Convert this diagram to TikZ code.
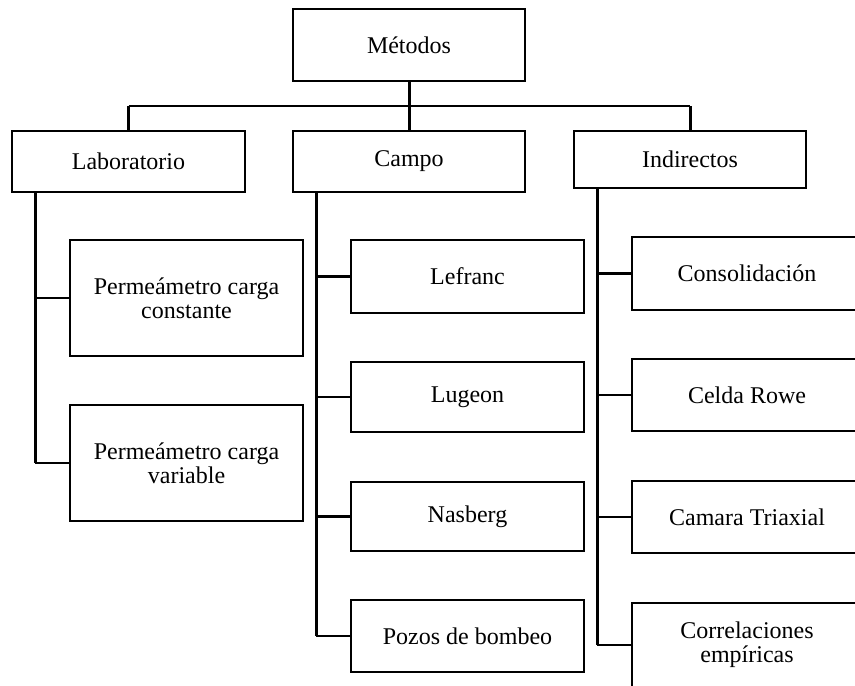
\documentclass[tikz,border=0pt]{standalone}
\usepackage{fontspec}
\setmainfont{Liberation Serif}
\begin{document}
\begin{tikzpicture}[x=0.5pt,y=-0.5pt,
  box/.style={draw, line width=1.3pt, inner sep=0pt, outer sep=0pt,
    minimum width=#1, align=center,
    font=\fontsize{12pt}{12pt}\selectfont},
  box/.default=116.5pt,
  vlink/.style={draw, line width=1.5pt},
  hlink/.style={draw, line width=1.1pt}]
\path[use as bounding box, clip] (0,0) rectangle (855,685);

% top level
\node[box=116pt, minimum height=36pt] (metodos) at (409,45) {Métodos};
\node[box, minimum height=30.5pt] (lab) at (128.5,161.5) {Laboratorio};
\node[box=116pt, minimum height=30.5pt] (campo) at (409,161.5) {Campo};
\node[box=116pt, minimum height=28.5pt] (ind) at (690,159.5) {Indirectos};

% laboratorio
\node[box, minimum height=58pt] (pc) at (186.5,298) {Permeámetro carga\\constante};
\node[box, minimum height=58pt] (pv) at (186.5,463) {Permeámetro carga\\variable};

% campo
\node[box, minimum height=36.5pt] (lefranc) at (467.5,276.5) {Lefranc};
\node[box, minimum height=35pt] (lugeon) at (467.5,397) {Lugeon};
\node[box, minimum height=34.5pt] (nasberg) at (467.5,516.5) {Nasberg};
\node[box, minimum height=36pt] (pozos) at (467.5,636) {Pozos de bombeo};

% indirectos
\node[box=115pt, minimum height=36.5pt] (consol) at (747,273.5) {Consolidación};
\node[box=115pt, minimum height=36pt] (celda) at (747,395) {Celda Rowe};
\node[box=115pt, minimum height=36pt] (camara) at (747,517) {Camara Triaxial};
\node[box=115pt, minimum height=42pt] (correl) at (747,645) {Correlaciones\\empíricas};

% bus below the root
\coordinate (bus) at (0,106);
\draw[vlink] (metodos.south) -- (campo.north);
\draw[vlink] (lab.north) -- (lab.north |- bus);
\draw[vlink] (ind.north) -- (ind.north |- bus);
\draw[hlink] (lab.north |- bus) -- (ind.north |- bus);

% spines of each branch
\coordinate (ls) at (35,192);
\coordinate (cs) at (316,192);
\coordinate (is) at (597,188);
\draw[vlink] (ls) -- (ls |- pv.west);
\draw[vlink] (cs) -- (cs |- pozos.west);
\draw[vlink] (is) -- (is |- correl.west);
\draw[hlink] (ls |- pc.west) -- (pc.west);
\draw[hlink] (ls |- pv.west) -- (pv.west);
\draw[hlink] (cs |- lefranc.west) -- (lefranc.west);
\draw[hlink] (cs |- lugeon.west) -- (lugeon.west);
\draw[hlink] (cs |- nasberg.west) -- (nasberg.west);
\draw[hlink] (cs |- pozos.west) -- (pozos.west);
\draw[hlink] (is |- consol.west) -- (consol.west);
\draw[hlink] (is |- celda.west) -- (celda.west);
\draw[hlink] (is |- camara.west) -- (camara.west);
\draw[hlink] (is |- correl.west) -- (correl.west);
\end{tikzpicture}
\end{document}
